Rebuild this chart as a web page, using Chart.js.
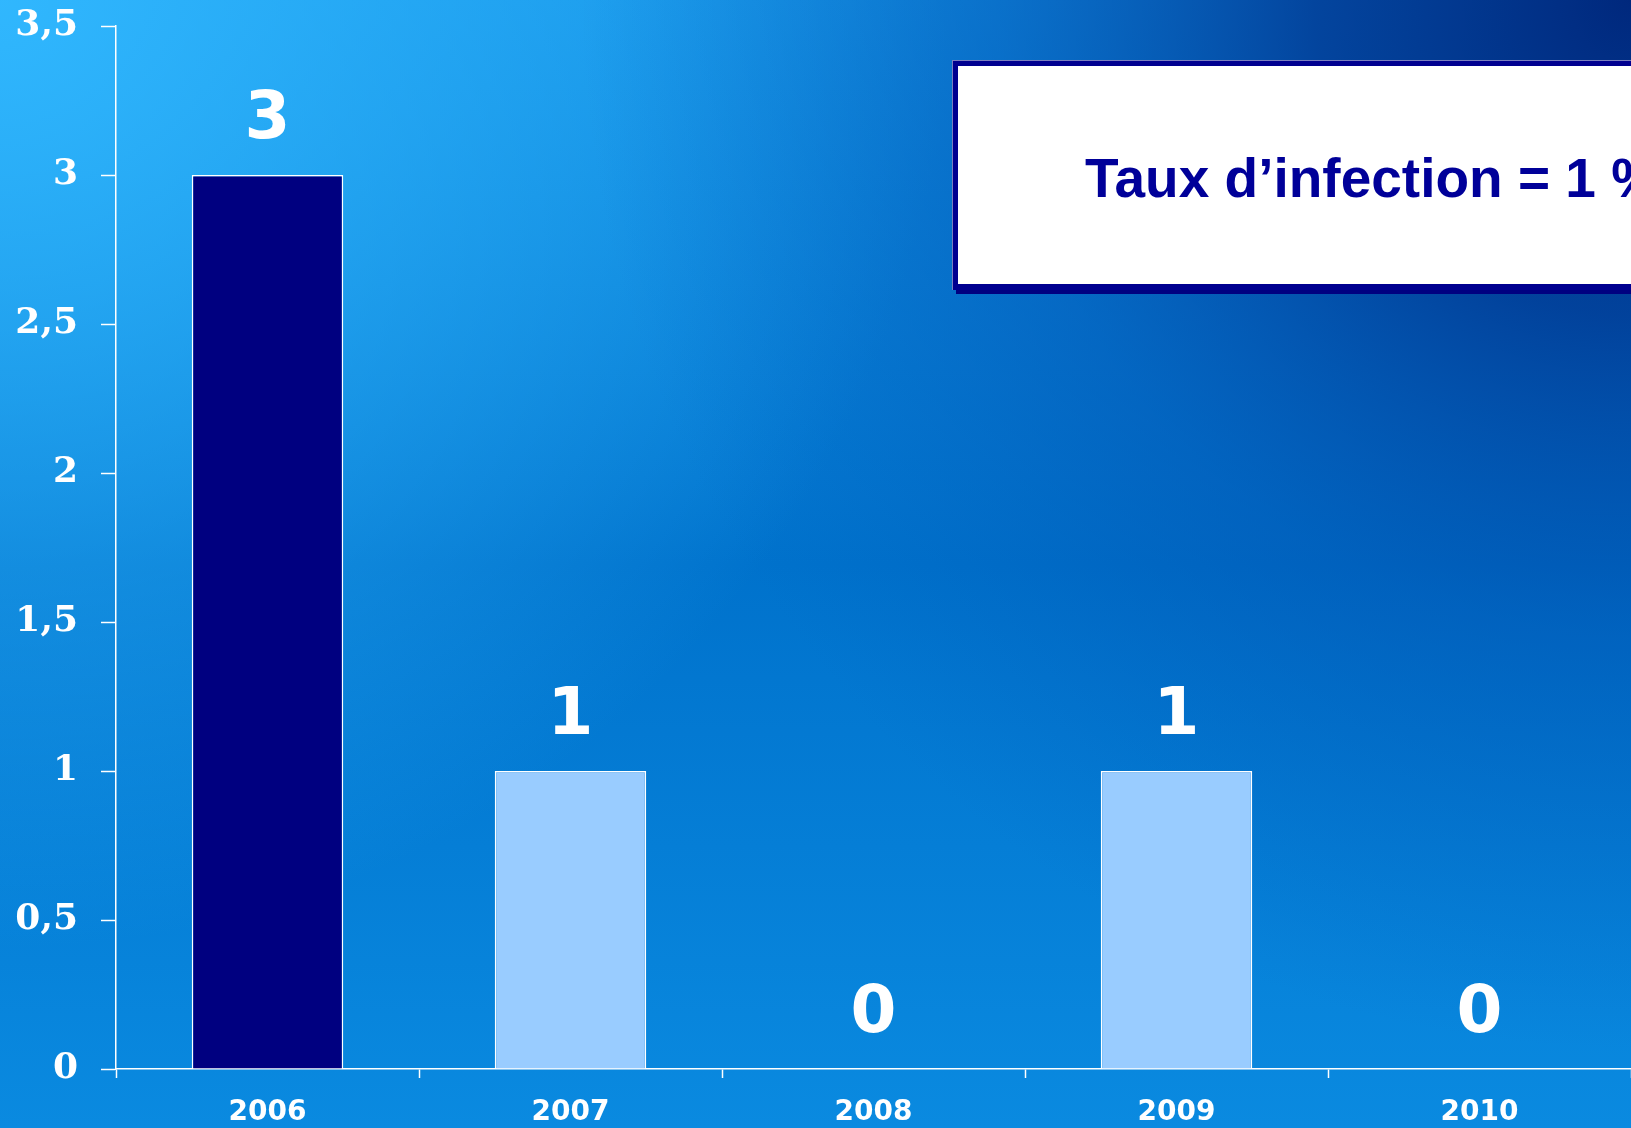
<!DOCTYPE html>
<html>
<head>
<meta charset="utf-8">
<script src="https://cdn.jsdelivr.net/npm/chart.js@4.4.1/dist/chart.umd.min.js"></script>
<style>
  html, body { margin: 0; padding: 0; background: #0a7fd6; overflow: hidden; }
  canvas { display: block; }
</style>
</head>
<body>
<canvas id="infections" width="1631" height="1128"></canvas>
<script>
// Infections per year
const years = ['2006', '2007', '2008', '2009', '2010'];
const infections = [3, 1, 0, 1, 0];
const barColors = ['#000080', '#99ccff', '#99ccff', '#99ccff', '#99ccff'];
const yTicks = [0, 0.5, 1, 1.5, 2, 2.5, 3, 3.5];
const rateText = 'Taux d\u2019infection = 1 %';

document.addEventListener('DOMContentLoaded', () => {
    const ctx = document.getElementById('infections').getContext('2d');

    // slide-style blue background
    const background = {
        id: 'background',
        beforeDraw: chart => {
            const c = chart.ctx;
            const w = chart.width, h = chart.height;
            c.save();
            let g = c.createLinearGradient(0, 0, 0, h);
            g.addColorStop(0, '#1492e6');
            g.addColorStop(0.5, '#0072cc');
            g.addColorStop(1, '#0a8ae0');
            c.fillStyle = g;
            c.fillRect(0, 0, w, h);

            g = c.createRadialGradient(0, 0, 0, 0, 0, 950);
            g.addColorStop(0, 'rgba(50,185,255,0.95)');
            g.addColorStop(1, 'rgba(50,185,255,0)');
            c.fillStyle = g;
            c.fillRect(0, 0, w, h);

            g = c.createRadialGradient(w, 0, 0, w, 0, 1050);
            g.addColorStop(0, 'rgba(0,40,125,1)');
            g.addColorStop(0.3, 'rgba(0,55,145,0.85)');
            g.addColorStop(0.6, 'rgba(0,80,175,0.5)');
            g.addColorStop(1, 'rgba(0,90,185,0)');
            c.fillStyle = g;
            c.fillRect(0, 0, w, h);
            c.restore();
        }
    };

    // value above each bar
    const valueLabels = {
        id: 'valueLabels',
        afterDatasetsDraw: chart => {
            const c = chart.ctx;
            const meta = chart.getDatasetMeta(0);
            c.save();
            c.fillStyle = '#ffffff';
            c.font = 'bold 66px "DejaVu Sans"';
            c.textAlign = 'center';
            c.textBaseline = 'alphabetic';
            meta.data.forEach((bar, i) => {
                c.fillText(String(infections[i]), bar.x, bar.y - 37);
            });
            c.restore();
        }
    };

    // framed note in the upper right
    const rateBox = {
        id: 'rateBox',
        afterDraw: chart => {
            const c = chart.ctx;
            const x = 952, y = 60, w = 720, h = 230;
            c.save();
            c.fillStyle = '#000080';
            c.fillRect(x + 4, y + 4, w, h);
            c.fillStyle = '#7a7fc0';
            c.fillRect(x, y, w, h);
            c.fillStyle = '#000090';
            c.fillRect(x + 1, y + 1, w, h - 1);
            c.fillStyle = '#ffffff';
            c.fillRect(x + 6, y + 6, w, h - 12);
            c.fillStyle = '#000099';
            c.font = 'bold 55px "Liberation Sans", Arial, sans-serif';
            c.textBaseline = 'alphabetic';
            c.fillText(rateText, 1085, 197);
            c.restore();
        }
    };

    new Chart(ctx, {
        type: 'bar',
        data: {
            labels: years,
            datasets: [{
                data: infections,
                backgroundColor: barColors,
                borderColor: '#ffffff',
                borderWidth: 1.5,
                borderSkipped: 'bottom',
                categoryPercentage: 1,
                barPercentage: 0.5
            }]
        },
        options: {
            responsive: false,
            animation: false,
            layout: { padding: { top: 26, left: 0, right: 0, bottom: 0 } },
            plugins: {
                legend: { display: false },
                tooltip: { enabled: false }
            },
            scales: {
                x: {
                    afterFit: scale => { scale.height = 59; },
                    grid: {
                        drawOnChartArea: false,
                        drawTicks: true,
                        tickLength: 9,
                        tickWidth: 1.5,
                        color: '#ffffff'
                    },
                    border: { display: true, color: '#ffffff', width: 1.5 },
                    ticks: {
                        color: '#ffffff',
                        padding: 18,
                        font: { family: '"DejaVu Sans"', weight: 'bold', size: 28 }
                    }
                },
                y: {
                    min: 0,
                    max: 3.5,
                    afterFit: scale => {
                        scale.width = 116;
                        // labels may overhang the plot area vertically
                        scale.paddingTop = 0;
                        scale.paddingBottom = 0;
                    },
                    afterBuildTicks: scale => {
                        scale.ticks = yTicks.map(v => ({ value: v }));
                    },
                    grid: {
                        drawOnChartArea: false,
                        drawTicks: true,
                        tickLength: 15,
                        tickWidth: 1.5,
                        color: '#ffffff'
                    },
                    border: { display: true, color: '#ffffff', width: 1.5 },
                    ticks: {
                        color: '#ffffff',
                        padding: 23,
                        font: { family: '"DejaVu Serif"', weight: 'bold', size: 36 },
                        callback: v => String(v).replace('.', ',')
                    }
                }
            }
        },
        plugins: [background, valueLabels, rateBox]
    });
});
</script>
</body>
</html>
